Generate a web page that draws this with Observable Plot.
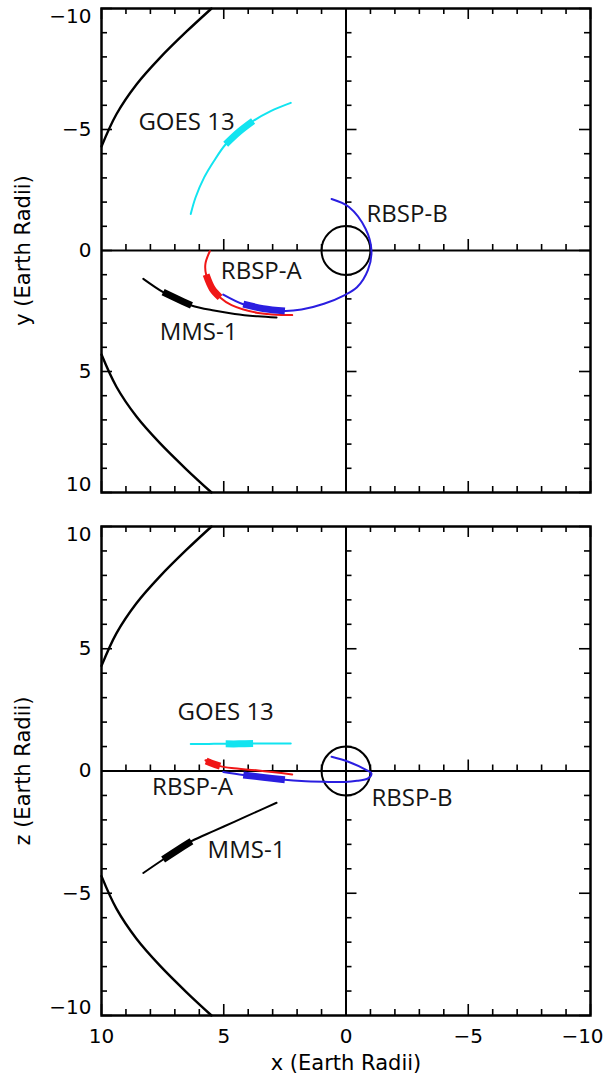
<!DOCTYPE html>
<html>
<head>
<meta charset="utf-8">
<script src="https://cdn.jsdelivr.net/npm/d3@7"></script>
<script src="https://cdn.jsdelivr.net/npm/@observablehq/plot@0.6"></script>
<style>
html, body { margin: 0; padding: 0; background: #fff; }
#chart { width: 604px; }
#chart svg { display: block; overflow: visible; }
</style>
</head>
<body>
<div id="chart"></div>
<script>
// ---------- data (Earth radii) ----------
const xDomain = [10, -10];
const majorTicks = [-10, -5, 0, 5, 10];
const minorTicks = [-9, -8, -7, -6, -4, -3, -2, -1, 1, 2, 3, 4, 6, 7, 8, 9];
const innerMajor = [-5, 5];

const earthRadius = 1;

// magnetopause (x, distance from x axis)
const mpX   = [10.0, 9.39, 8.57, 7.62, 6.52, 5.50];
const mpRho = [4.30, 5.63, 6.86, 7.95, 9.05, 10.0];

// GOES 13
const goesX = [6.35, 6.15, 5.80, 5.40, 4.92, 4.38, 3.80, 3.08, 2.26];
const goesY = [-1.51, -2.20, -3.02, -3.70, -4.39, -4.90, -5.35, -5.76, -6.10];
const goesZ = [1.10, 1.10, 1.10, 1.11, 1.11, 1.11, 1.12, 1.12, 1.12];
const goesHi = [4, 6];

// MMS-1
const mmsX = [8.29, 7.48, 6.90, 6.32, 5.40, 4.55, 3.60, 2.84];
const mmsY = [1.17, 1.72, 2.00, 2.27, 2.48, 2.62, 2.72, 2.77];
const mmsZ = [-4.17, -3.62, -3.24, -2.87, -2.45, -2.07, -1.64, -1.30];
const mmsHi = [1, 3];

// RBSP-A
const rbspAX = [5.57, 5.75, 5.72, 5.47, 5.15, 4.68, 3.59, 2.20];
const rbspAY = [0.03, 0.55, 1.00, 1.58, 1.94, 2.26, 2.58, 2.67];
const rbspAZ = [0.45, 0.44, 0.41, 0.31, 0.20, 0.12, 0.02, -0.14];
const rbspAHi = [2, 4];

// RBSP-B
const rbspBX = [0.59, -0.12, -0.80, -1.04, -0.90, -0.45, 0.05, 0.90, 1.82, 2.50, 3.39, 4.20, 5.02];
const rbspBY = [-2.13, -1.80, -0.90, 0.00, 0.80, 1.52, 1.84, 2.20, 2.44, 2.50, 2.40, 2.22, 1.82];
const rbspBZ = [0.58, 0.37, 0.06, -0.10, -0.30, -0.40, -0.45, -0.44, -0.41, -0.36, -0.26, -0.16, -0.04];
const rbspBHi = [9, 11];

// labels
const labelNames = ["GOES 13", "RBSP-B", "RBSP-A", "MMS-1"];
const labelXYx = [8.49, -0.84, 5.12, 7.62];
const labelXYy = [-5.31, -1.51, 0.87, 3.40];
const labelXZx = [6.89, -1.04, 7.93, 5.66];
const labelXZz = [2.38, -1.13, -0.65, -3.25];

// ---------- styling ----------
const W = 604;
const ML = 101, MR = 14;
const CYAN = "#12e4f0", RED = "#f01616", BLUE = "#2a1ee0";
const AXIS_FONT = "DejaVu Sans, sans-serif";
const LABEL_FONT = "Open Sans, sans-serif";
const fmt = d3.format("d");

function rows(xs, ys, zs) {
  return xs.map((x, i) => ({i, x, y: ys[i], z: zs[i]}));
}
const sats = [
  {data: rows(goesX, goesY, goesZ), hi: goesHi, color: CYAN},
  {data: rows(mmsX, mmsY, mmsZ), hi: mmsHi, color: "black"},
  {data: rows(rbspAX, rbspAY, rbspAZ), hi: rbspAHi, color: RED},
  {data: rows(rbspBX, rbspBY, rbspBZ), hi: rbspBHi, color: BLUE}
];

function panel({v, vDomain, height, marginTop, marginBottom, vTitle, lx, lv, xTitle}) {
  const innerW = W - ML - MR;
  const innerH = height - marginTop - marginBottom;
  const pxX = innerW / Math.abs(xDomain[0] - xDomain[1]);
  const pxV = innerH / Math.abs(vDomain[0] - vDomain[1]);
  const vBottom = vDomain[0], vTop = vDomain[1];
  const up = Math.sign(vTop - vBottom);
  const right = Math.sign(xDomain[1] - xDomain[0]);
  const xLeft = xDomain[0], xRight = xDomain[1];
  const minorLen = 6, majorLen = 11, tw = 1.6;
  const marks = [];

  // magnetopause, both flanks
  const mpPos = mpX.map((x, i) => ({x, v: mpRho[i]}));
  const mpNeg = mpX.map((x, i) => ({x, v: -mpRho[i]}));
  for (const d of [mpPos, mpNeg]) {
    marks.push(Plot.line(d, {x: "x", y: "v", curve: "catmull-rom", stroke: "black", strokeWidth: 2.4}));
  }

  // axis lines through origin
  marks.push(Plot.ruleX([0], {stroke: "black", strokeWidth: 2}));
  marks.push(Plot.ruleY([0], {stroke: "black", strokeWidth: 2}));

  // frame ticks (inward) and ticks on the axes through the origin
  const tk = {stroke: "black", strokeWidth: tw};
  for (const [ticks, len] of [[minorTicks, minorLen], [majorTicks, majorLen]]) {
    const dv = up * len / pxV, dx = right * len / pxX;
    marks.push(Plot.ruleX(ticks, {x: d => d, y1: () => vBottom, y2: () => vBottom + dv, ...tk}));
    marks.push(Plot.ruleX(ticks, {x: d => d, y1: () => vTop, y2: () => vTop - dv, ...tk}));
    marks.push(Plot.ruleY(ticks, {y: d => d, x1: () => xLeft, x2: () => xLeft + dx, ...tk}));
    marks.push(Plot.ruleY(ticks, {y: d => d, x1: () => xRight, x2: () => xRight - dx, ...tk}));
  }
  for (const [ticks, len] of [[minorTicks, minorLen], [innerMajor, majorLen]]) {
    const dv = up * len / pxV, dx = right * len / pxX;
    marks.push(Plot.ruleX(ticks, {x: d => d, y1: () => 0, y2: () => dv, ...tk}));
    marks.push(Plot.ruleY(ticks, {y: d => d, x1: () => 0, x2: () => dx, ...tk}));
  }

  // Earth
  marks.push(Plot.dot([{x: 0, v: 0}], {x: "x", y: "v", r: earthRadius * pxX, stroke: "black", strokeWidth: 2, fill: "none"}));

  // spacecraft tracks
  for (const s of sats) {
    marks.push(Plot.line(s.data, {x: "x", y: v, curve: "catmull-rom", stroke: s.color, strokeWidth: 2}));
    const hi = s.data.filter(d => d.i >= s.hi[0] && d.i <= s.hi[1]);
    marks.push(Plot.line(hi, {x: "x", y: v, curve: "catmull-rom", stroke: s.color, strokeWidth: 7, strokeLinecap: "butt"}));
  }

  // frame
  marks.push(Plot.frame({stroke: "black", strokeWidth: 2.5}));

  // spacecraft labels
  const lab = labelNames.map((t, i) => ({t, x: lx[i], v: lv[i]}));
  marks.push(Plot.text(lab, {x: "x", y: "v", text: "t", textAnchor: "start", lineAnchor: "middle", fontFamily: LABEL_FONT, fontSize: 24, fill: "#151515"}));

  // y tick labels
  const tl = {text: d => fmt(d), frameAnchor: "left", dx: -10, textAnchor: "end", lineAnchor: "middle", fontFamily: AXIS_FONT, fontSize: 20};
  const inner = majorTicks.filter(d => d !== vDomain[0] && d !== vDomain[1]);
  marks.push(Plot.text(inner, {y: d => d, ...tl}));
  marks.push(Plot.text([vTop], {y: d => d, dy: 8, ...tl}));
  marks.push(Plot.text([vBottom], {y: d => d, dy: -8, ...tl}));
  // y title
  marks.push(Plot.text([vTitle], {text: d => d, frameAnchor: "left", dx: -78, rotate: -90, textAnchor: "middle", lineAnchor: "middle", fontFamily: AXIS_FONT, fontSize: 21, letterSpacing: "0.6px"}));

  if (xTitle) {
    const xl = {text: d => fmt(d), frameAnchor: "bottom", dy: 21, textAnchor: "middle", lineAnchor: "middle", fontFamily: AXIS_FONT, fontSize: 20};
    marks.push(Plot.text(majorTicks.filter(d => d !== xRight), {x: d => d, ...xl}));
    marks.push(Plot.text([xRight], {x: d => d, dx: -8, ...xl}));
    marks.push(Plot.text([xTitle], {text: d => d, frameAnchor: "bottom", dy: 48, textAnchor: "middle", lineAnchor: "middle", fontFamily: AXIS_FONT, fontSize: 21, letterSpacing: "0.6px"}));
  }

  return Plot.plot({
    width: W,
    height,
    marginLeft: ML,
    marginRight: MR,
    marginTop,
    marginBottom,
    x: {domain: xDomain, axis: null},
    y: {domain: vDomain, axis: null},
    style: {background: "white", color: "black", overflow: "visible"},
    marks
  });
}

const chart = document.getElementById("chart");
chart.append(panel({
  v: "y", vDomain: [10, -10], height: 518, marginTop: 8, marginBottom: 26,
  vTitle: "y (Earth Radii)", lx: labelXYx, lv: labelXYy, xTitle: null
}));
chart.append(panel({
  v: "z", vDomain: [-10, 10], height: 560, marginTop: 8, marginBottom: 63,
  vTitle: "z (Earth Radii)", lx: labelXZx, lv: labelXZz, xTitle: "x (Earth Radii)"
}));
</script>
</body>
</html>
